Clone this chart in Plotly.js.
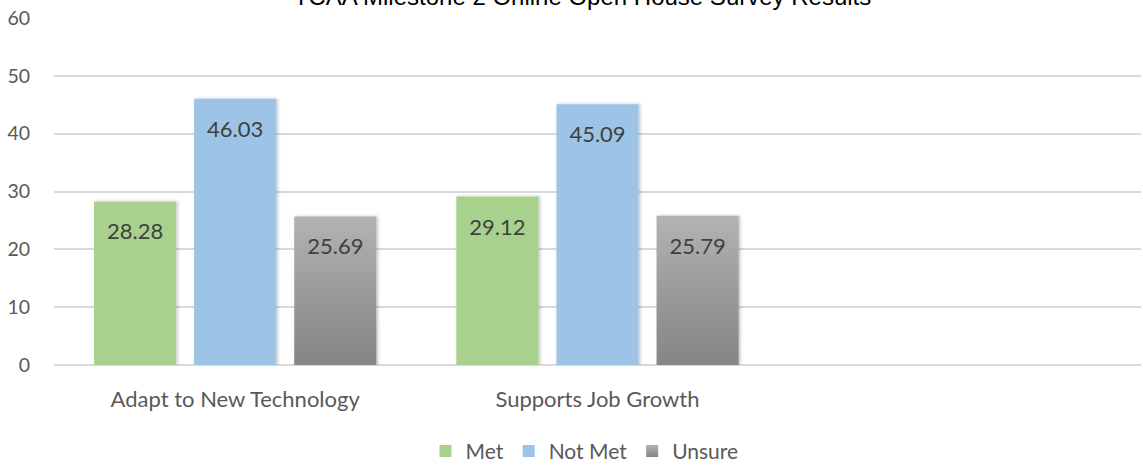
<!DOCTYPE html>
<html>
<head>
<meta charset="utf-8">
<script src="https://cdn.plot.ly/plotly-3.0.1.min.js"></script>
<style>
html,body{margin:0;padding:0;background:#fff;}
#chart{width:1143px;height:474px;}
</style>
</head>
<body>
<div id="chart"></div>
<script>
const categories = ["Adapt to New Technology", "Supports Job Growth"];
const seriesNames = ["Met", "Not Met", "Unsure"];
const metValues = [28.28, 29.12];
const notMetValues = [46.03, 45.09];
const unsureValues = [25.69, 25.79];
const yTicks = [0, 10, 20, 30, 40, 50, 60];
const titleText = "TCAA Milestone 2 Online Open House Survey Results";

const colors = ["#a9d18e", "#9dc3e6", "#a0a0a0"];
const valueSets = [metValues, notMetValues, unsureValues];

const labelFont = {family: "Lato, 'Open Sans', sans-serif", size: 22, color: "#404040"};

const traces = valueSets.map((vals, i) => ({
  type: "bar",
  name: seriesNames[i],
  x: categories,
  y: vals,
  text: vals.map(v => v.toFixed(2)),
  textposition: "inside",
  insidetextanchor: "end",
  insidetextfont: labelFont,
  textfont: labelFont,
  marker: {color: colors[i], line: {width: 0}},
  hoverinfo: "x+y+name"
}));

const layout = {
  width: 1143,
  height: 474,
  margin: {l: 54, r: 2, t: 18, b: 106},
  paper_bgcolor: "#ffffff",
  plot_bgcolor: "#ffffff",
  barmode: "group",
  bargap: 0.171,
  bargroupgap: 0.18,
  title: {
    text: titleText,
    font: {family: "'Liberation Sans', Arial, sans-serif", size: 24, color: "#000000"},
    x: 0.5096,
    xanchor: "center",
    xref: "container",
    yref: "container",
    y: 0.99,
    yanchor: "bottom"
  },
  xaxis: {
    type: "category",
    categoryorder: "array",
    categoryarray: categories,
    range: [-0.5, 2.5],
    showgrid: false,
    zeroline: false,
    showline: false,
    ticks: "",
    tickfont: {family: "Lato, 'Open Sans', sans-serif", size: 22, color: "#595959"},
    ticklabelstandoff: 19
  },
  yaxis: {
    range: [0, 60],
    tickvals: yTicks,
    ticktext: yTicks.map(String),
    showgrid: true,
    gridcolor: "#d9d9d9",
    gridwidth: 2,
    zeroline: true,
    zerolinecolor: "#d9d9d9",
    zerolinewidth: 2,
    showline: false,
    ticks: "",
    tickfont: {family: "Lato, 'Open Sans', sans-serif", size: 19.5, color: "#595959"},
    ticklabelstandoff: 23
  },
  legend: {
    orientation: "h",
    x: 0.488,
    xanchor: "center",
    y: -0.249,
    yanchor: "middle",
    font: {family: "Lato, 'Open Sans', sans-serif", size: 21, color: "#595959"},
    itemwidth: 30,
    traceorder: "normal"
  },
  showlegend: true
};

Plotly.newPlot("chart", traces, layout, {displayModeBar: false, staticPlot: true}).then(gd => {
  const svg = gd.querySelector(".main-svg");
  const NS = "http://www.w3.org/2000/svg";
  let defs = svg.querySelector("defs");
  if (!defs) { defs = document.createElementNS(NS, "defs"); svg.insertBefore(defs, svg.firstChild); }
  const grad = document.createElementNS(NS, "linearGradient");
  grad.setAttribute("id", "unsureGrad");
  grad.setAttribute("x1", "0"); grad.setAttribute("y1", "0");
  grad.setAttribute("x2", "0"); grad.setAttribute("y2", "1");
  [["0", "#b2b2b2"], ["1", "#858585"]].forEach(([o, c]) => {
    const s = document.createElementNS(NS, "stop");
    s.setAttribute("offset", o); s.setAttribute("stop-color", c);
    grad.appendChild(s);
  });
  defs.appendChild(grad);
  const filt = document.createElementNS(NS, "filter");
  filt.setAttribute("id", "barShadow");
  filt.setAttribute("x", "-10%"); filt.setAttribute("y", "-5%");
  filt.setAttribute("width", "130%"); filt.setAttribute("height", "110%");
  const ds = document.createElementNS(NS, "feDropShadow");
  ds.setAttribute("dx", "1.5"); ds.setAttribute("dy", "0");
  ds.setAttribute("stdDeviation", "1.5");
  ds.setAttribute("flood-color", "#000"); ds.setAttribute("flood-opacity", "0.25");
  filt.appendChild(ds);
  defs.appendChild(filt);

  const barTraces = gd.querySelectorAll(".barlayer .trace");
  barTraces.forEach((t, i) => {
    t.querySelectorAll(".point path").forEach(p => {
      p.setAttribute("filter", "url(#barShadow)");
      if (i === 2) p.style.fill = "url(#unsureGrad)";
    });
    t.querySelectorAll(".point text").forEach(tx => {
      const tr = tx.getAttribute("transform") || "";
      tx.setAttribute("transform", "translate(0,13) " + tr);
    });
  });
  const legendItems = gd.querySelectorAll(".legend .traces");
  if (legendItems[2]) {
    legendItems[2].querySelectorAll(".legendpoints path").forEach(p => { p.style.fill = "url(#unsureGrad)"; });
  }
});
</script>
</body>
</html>
